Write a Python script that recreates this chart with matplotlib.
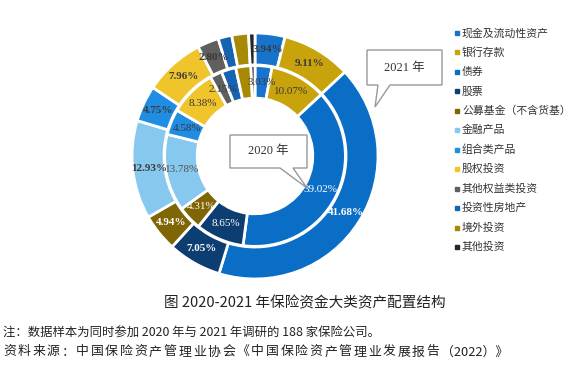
import numpy as np
import matplotlib
matplotlib.use("Agg")
import matplotlib.pyplot as plt
from matplotlib.patches import Polygon

plt.rcParams['font.family'] = ['Noto Sans CJK SC', 'DejaVu Sans']

# Asset classes (clockwise from 12 o'clock)
categories = ['现金及流动性资产', '银行存款', '债券', '股票', '公募基金（不含货基）',
              '金融产品', '组合类产品', '股权投资', '其他权益类投资', '投资性房地产',
              '境外投资', '其他投资']
share_2021 = [3.94, 9.11, 41.68, 7.05, 4.94, 12.93, 4.75, 7.96, 2.80, 1.80, 2.20, 0.84]
share_2020 = [3.03, 10.07, 39.02, 8.65, 4.31, 13.78, 4.58, 8.38, 2.15, 2.60, 2.70, 0.73]
# which slices carry a printed label
labelled = [True] * 9 + [False] * 3

colors = ['#1873cc', '#c9a30c', '#0a6ec6', '#0d3e72', '#7f6604', '#86c8ee',
          '#1f8de2', '#f0c52c', '#5f5f5f', '#1564b2', '#a68a06', '#262626']
outer_txt = ['#3a3a3a', '#3a3a3a', 'white', 'white', 'white', '#3a3a3a',
             '#3a3a3a', '#3a3a3a', '#3a3a3a']
inner_txt = ['#3a3a3a', '#3a3a3a', 'white', 'white', 'white', '#505050',
             '#3a3a3a', '#3a3a3a', '#3a3a3a']

W, H = 580, 373
fig = plt.figure(figsize=(W / 100, H / 100), dpi=100)


def fx(x):
    return x / W


def fy(y):
    return 1 - y / H


# donut axes: center (255,156) px, outer radius 123 px
cx, cy, R = 255, 156, 123
lim = 1.1
ax = fig.add_axes([fx(cx - R * lim), fy(cy + R * lim), 2 * R * lim / W, 2 * R * lim / H])

wp = dict(edgecolor='white', linewidth=2)
ax.pie(share_2021, radius=1.0, colors=colors, startangle=90, counterclock=False,
       wedgeprops=dict(width=0.26, **wp))
ax.pie(share_2020, radius=0.735, colors=colors, startangle=90, counterclock=False,
       wedgeprops=dict(width=0.265, **wp))
ax.set_xlim(-lim, lim)
ax.set_ylim(-lim, lim)
ax.set_aspect('equal')
ax.axis('off')


def put_labels(vals, r, txtcols, bold):
    cum = np.cumsum(vals) - np.array(vals) / 2
    ang = np.deg2rad(90 - cum / 100 * 360)
    for v, a, show, c in zip(vals, ang, labelled, txtcols + [None] * 3):
        if not show:
            continue
        ax.text(r * np.cos(a), r * np.sin(a), f'{v:.2f}%', ha='center', va='center',
                color=c, fontsize=8, family='Liberation Serif',
                fontweight='bold' if bold else 'normal')


put_labels(share_2021, 0.87, outer_txt, True)
put_labels(share_2020, 0.60, inner_txt, False)


# callout boxes
def callout(x0, y0, x1, y1, b0, b1, tip, text):
    pts = [(x0, y0), (x1, y0), (x1, y1), (b1, y1), tip, (b0, y1), (x0, y1)]
    poly = Polygon([(fx(x), fy(y)) for x, y in pts], closed=True, transform=fig.transFigure,
                   facecolor='white', edgecolor='#999999', linewidth=1)
    fig.add_artist(poly)
    fig.text(fx((x0 + x1) / 2), fy((y0 + y1) / 2), text, ha='center', va='center',
             fontsize=9, color='#333333', family=['Liberation Serif', 'Noto Sans CJK SC'])


callout(367, 50, 442, 85, 378, 390, (375, 107), '2021 年')
callout(230, 135, 307, 168, 280, 293, (307, 188), '2020 年')

# legend
for i, (name, c) in enumerate(zip(categories, colors)):
    y = 33 + i * 19.45
    fig.add_artist(plt.Line2D([fx(457)], [fy(y)], marker='s', markersize=2.5, color=c,
                              linestyle='', transform=fig.transFigure))
    fig.text(fx(462), fy(y), name, ha='left', va='center', fontsize=7.8, color='#333333')

# captions
fig.text(fx(305), fy(303), '图 2020-2021 年保险资金大类资产配置结构', ha='center', va='center',
         fontsize=10.5, color='#222222')
fig.text(fx(3), fy(333), '注：数据样本为同时参加 2020 年与 2021 年调研的 188 家保险公司。',
         ha='left', va='center', fontsize=8.9, color='#222222')

# source line is set with slightly wider character spacing in the original
source_main = '资料来源：中国保险资产管理业协会《中国保险资产管理业发展报告'
source_tail = '（2022）》'
x = 3
for ch in source_main:
    fig.text(fx(x), fy(352), ch, ha='left', va='center', fontsize=9.3, color='#222222')
    x += 14.6
fig.text(fx(x), fy(352), source_tail, ha='left', va='center', fontsize=9.3, color='#222222')

fig.savefig('out.png', dpi=100)
